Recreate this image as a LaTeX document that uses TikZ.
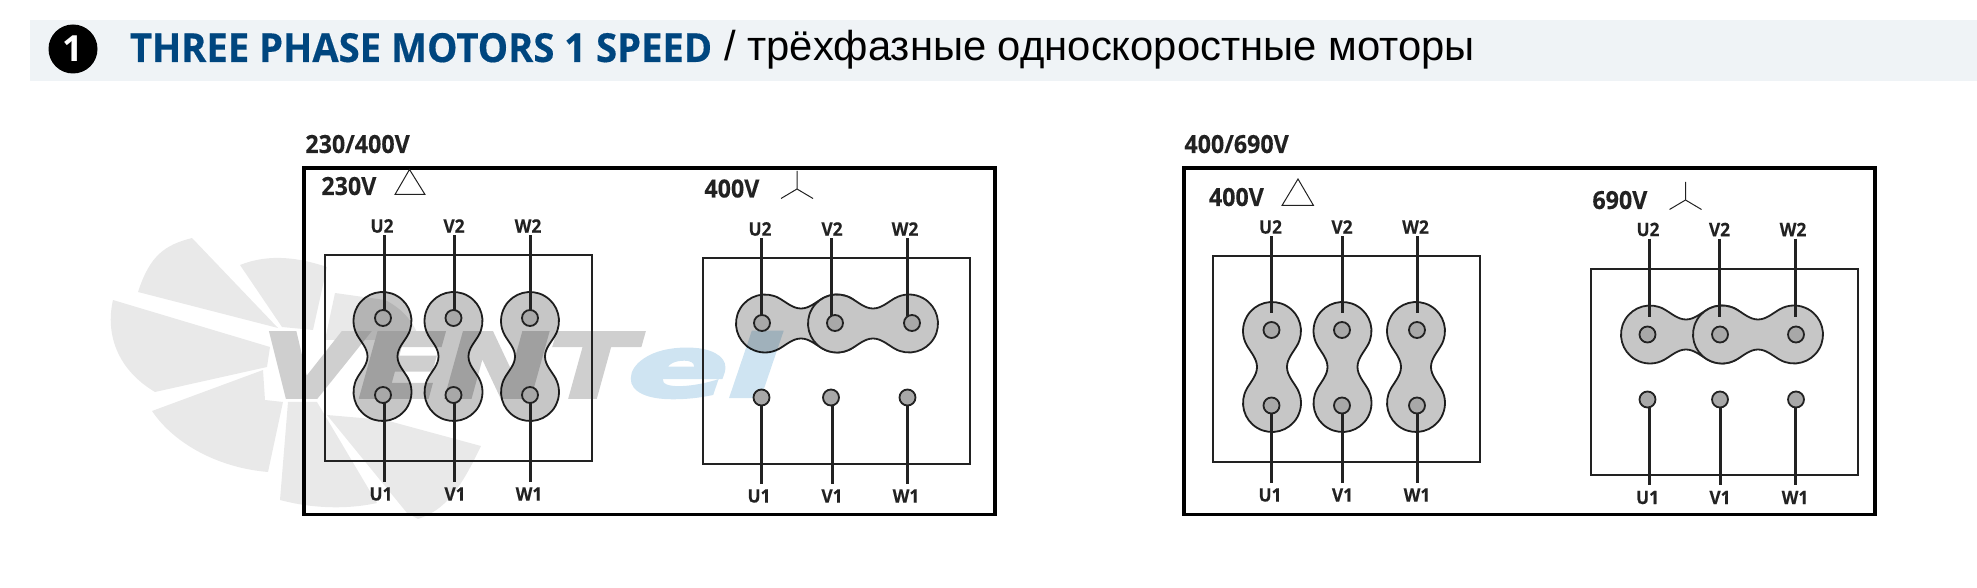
\documentclass[tikz,border=0pt]{standalone}
\usepackage{fontspec}
\usepackage{xcolor}
\setmainfont{Open Sans}
\newfontfamily\titlefont[FakeStretch=0.955,FakeBold=0.4]{Open Sans}
\newfontfamily\labelfont[FakeStretch=0.93,FakeBold=0.2]{Open Sans}
\newfontfamily\rusfont{Liberation Sans}
\newfontfamily\logofont[FakeBold=4]{DejaVu Sans}
\definecolor{bandcol}{HTML}{EFF3F6}
\definecolor{titlecol}{HTML}{00467F}
\definecolor{inkcol}{HTML}{222222}
\definecolor{bladecol}{HTML}{E9E9E9}
\definecolor{logogray}{HTML}{CFCFCF}
\definecolor{logoblue}{HTML}{CFE4F2}
\definecolor{linkcol}{HTML}{C6C6C6}
\definecolor{holecol}{HTML}{A8A8A8}
\tikzset{
	frame/.style={draw=black, line width=1.6pt},
	termbox/.style={draw=inkcol, line width=1pt},
	wire/.style={draw=inkcol, line width=1.5pt},
	linktop/.style={draw=inkcol, line width=.9pt, fill=linkcol},
	linkshape/.style={linktop, blend mode=multiply},
	hole/.style={circle, draw=inkcol, line width=.9pt, fill=holecol, minimum size=8pt, inner sep=0pt},
	termlabel/.style={font=\labelfont\bfseries\fontsize{9.3}{9.3}\selectfont, text=inkcol, inner sep=1pt},
	voltage/.style={font=\labelfont\bfseries\fontsize{12.5}{12.5}\selectfont, text=inkcol, inner sep=0pt, anchor=base west},
	sign/.style={draw=inkcol, line width=.5pt},
	blade/.style={fill=bladecol, draw=none}
}
% vertical link: centre x, centre y, half distance of the lobes
\newcommand{\vlink}[3]{
	\begin{scope}[shift={(#1,#2)}]
		\path[linkshape] (25.1,{14.5-#3}) arc[start angle=-30, end angle=210, radius=14.5pt]
			.. controls (-21,{21.5-#3}) and (-15,-8) .. (-15,0)
			.. controls (-15,8) and (-21,{#3-21.5}) .. (-25.1,{#3-14.5})
			arc[start angle=150, end angle=390, radius=14.5pt]
			.. controls (21,{#3-21.5}) and (15,8) .. (15,0)
			.. controls (15,-8) and (21,{21.5-#3}) .. cycle;
	\end{scope}
}
% the same link lying down, with its style as last argument
\newcommand{\hlink}[4]{
	\begin{scope}[shift={(#1,#2)}]
		\path[#4] ({14.5-#3},-25.1) arc[start angle=60, end angle=300, radius=14.5pt]
			.. controls ({21.5-#3},21) and (-8,15) .. (0,15)
			.. controls (8,15) and ({#3-21.5},21) .. ({#3-14.5},25.1)
			arc[start angle=240, end angle=480, radius=14.5pt]
			.. controls ({#3-21.5},-21) and (8,-15) .. (0,-15)
			.. controls (-8,-15) and ({21.5-#3},-21) .. cycle;
	\end{scope}
}

\begin{document}
\begin{tikzpicture}[x=.5pt, y=-.5pt]
	\useasboundingbox (0,0) rectangle (1977,588);

	% heading
	\fill[bandcol] (30,20) rectangle (1977,81);
	\node[circle, fill=black, minimum size=24.5pt, inner sep=0pt, text=white, font=\bfseries\fontsize{18}{18}\selectfont] (num) at (73,49) {1};
	\node[anchor=base west, inner sep=0pt, text=titlecol, font=\titlefont\bfseries\fontsize{20}{20}\selectfont] (title) at (129.5,62) {THREE PHASE MOTORS 1 SPEED};
	\node[anchor=base west, inner sep=0pt, text=black, font=\rusfont\fontsize{20.9}{20.9}\selectfont] (subtitle) at (724,61) {/ трёхфазные односкоростные моторы};

	% fan and name behind the first frame
	\path[blade] (278,328) -- (138,292) .. controls (150,255) and (165,245) .. (192,238) -- cycle;
	\path[blade] (240,265) .. controls (270,253) and (300,258) .. (327,267) -- (313,330) -- (282,327) -- cycle;
	\path[blade] (270,347) -- (113,300) .. controls (105,335) and (118,370) .. (155,392) -- (267,367) -- cycle;
	\path[blade] (152,411) -- (263,370) -- (265,400) -- (283,402) -- (268,472) .. controls (220,468) and (175,445) .. cycle;
	\path[blade] (288,402) -- (317,402) -- (377,503) .. controls (345,510) and (310,508) .. (280,500) -- cycle;
	\path[blade] (327,415) -- (407,513) -- (418,519) .. controls (445,510) and (460,490) .. (481,446) -- (385,420) -- cycle;
	\path[blade] (335,293) -- (385,300) .. controls (405,310) and (415,325) .. (420,340) -- (325,340) -- cycle;
	\node[inner sep=0pt, text=logogray, anchor=west] (logoa) at (262,365) {\resizebox{186pt}{32pt}{\logofont\itshape\bfseries VENT}};
	\node[inner sep=0pt, text=logoblue, anchor=west] (logob) at (628,365) {\resizebox{75pt}{32pt}{\logofont\itshape\bfseries el}};

	% frames
	\node[voltage] (gr1) at (305,153) {230/400V};
	\node[voltage] (gr2) at (1184,153) {400/690V};
	\draw[frame] (304,168) rectangle (995,514.5);
	\draw[frame] (1184,168) rectangle (1875,514.5);
	\draw[termbox] (325,255) rectangle (592,461);
	\draw[termbox] (703,258) rectangle (970,464);
	\draw[termbox] (1212.5,256) rectangle (1480,462);
	\draw[termbox] (1590.5,269) rectangle (1858,475);

	% voltages and signs
	\node[voltage] (va) at (321,195) {230V};
	\node[voltage] (vb) at (704,197.5) {400V};
	\node[voltage] (vc) at (1208.5,206) {400V};
	\node[voltage] (vd) at (1592,209) {690V};
	\draw[sign] (409.5,169.5) -- (425,194.5) -- (395,194.5) -- cycle;
	\draw[sign] (1298,179) -- (1313.5,205.5) -- (1282,205.5) -- cycle;
	\foreach \cx/\cy in {797/189, 1685.5/200}
		\draw[sign] (\cx,\cy-18) -- (\cx,\cy) (\cx-16,\cy+9.5) -- (\cx,\cy) -- (\cx+16,\cy+9.5);

	% links
	\foreach \lx in {382.5, 453.5, 530} \vlink{\lx}{356.5}{35.5};
	\foreach \lx in {1272, 1342.5, 1416} \vlink{\lx}{367}{36};
	\hlink{801}{323.5}{36}{linkshape};
	\hlink{873}{323.5}{36}{linktop};
	\hlink{1686}{334.5}{36}{linktop};
	\hlink{1758}{334.5}{36}{linktop};

	% upper terminals: name, text, label x, y, wire x, wire end y, hole x, y
	\foreach \n/\t/\lx/\ly/\wx/\ey/\hx/\hy in {
		au/U2/382/226/384.5/311/383/318, av/V2/454/226/454/311/453.5/318, aw/W2/528/226/530/311/530/318,
		bu/U2/760/229/761/316/762/323, bv/V2/832/229/831/316/835/323, bw/W2/905/229/907.5/316/912/323,
		cu/U2/1270.5/227/1271/313/1271.5/330, cv/V2/1342/227/1342/313/1342/330, cw/W2/1415.5/227/1417.5/313/1417/330,
		du/U2/1648/229.5/1649/317/1647.5/334.5, dv/V2/1719.5/229.5/1719.5/317/1720/334.5, dw/W2/1793/229.5/1795.5/317/1796/334.5}{
		\node[hole] (h\n) at (\hx,\hy) {};
		\node[termlabel] (l\n) at (\lx,\ly) {\t};
		\coordinate (w\n) at (\wx,\ey);
		\draw[wire] (l\n.south -| w\n) -- (w\n);
	}

	% lower terminals
	\foreach \n/\t/\lx/\ly/\wx/\ey/\hx/\hy in {
		ap/U1/381/494/384.5/403/383/395, aq/V1/455/494/454/403/453.5/395, ar/W1/529/494/530/403/530/395,
		bp/U1/759/496/761.5/405/761.5/397.5, bq/V1/832/496/832/405/831/397.5, br/W1/906/496/907.5/405/907.5/397.5,
		cp/U1/1270/495/1271/413/1271.5/405.5, cq/V1/1342.5/495/1342/413/1342/405.5, cr/W1/1417/495/1417.5/413/1417/405.5,
		dp/U1/1647.5/497.5/1649/407/1647.5/399.5, dq/V1/1720/497.5/1720.5/407/1720/399.5, dr/W1/1795/497.5/1795.5/407/1796/399.5}{
		\node[hole] (h\n) at (\hx,\hy) {};
		\node[termlabel] (l\n) at (\lx,\ly) {\t};
		\coordinate (w\n) at (\wx,\ey);
		\draw[wire, shorten >=1.5pt] (w\n) -- (l\n.north -| w\n);
	}
\end{tikzpicture}
\end{document}
